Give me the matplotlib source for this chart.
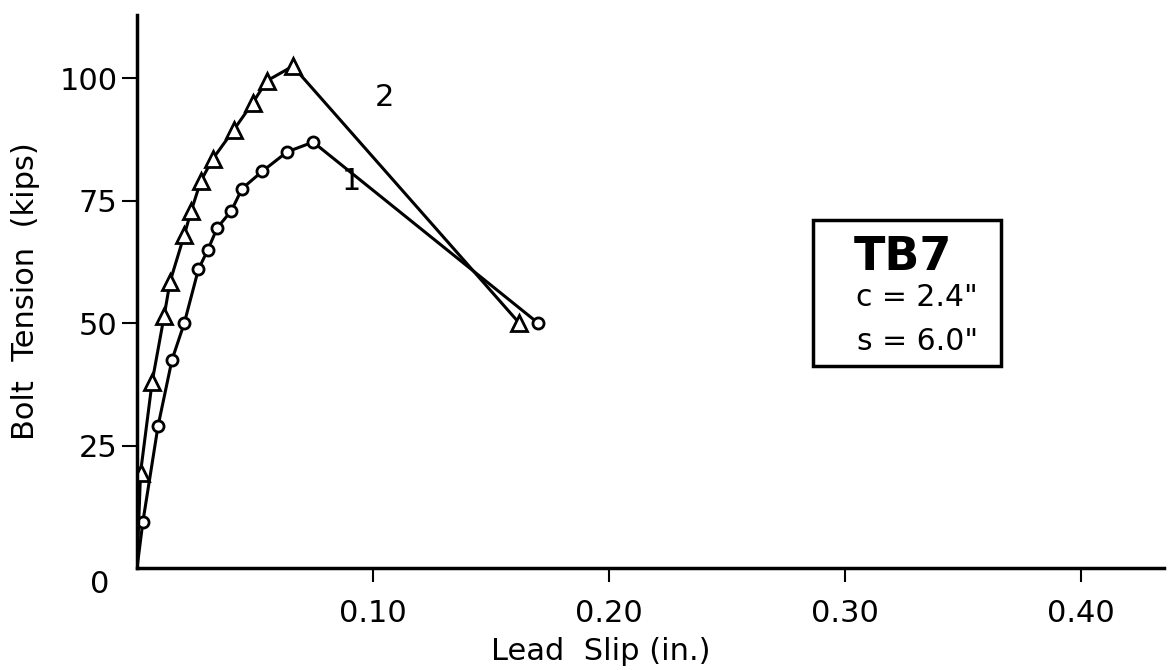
import matplotlib.pyplot as plt
from matplotlib.patches import Rectangle

# series 1 (circles) and series 2 (triangles), lead slip in inches, tension in kips
slip_1 = [0.0, 0.0025, 0.0089, 0.0148, 0.020, 0.026, 0.030, 0.034, 0.040, 0.0445, 0.053, 0.0636, 0.0746, 0.170]
tension_1 = [0, 9.5, 29, 42.5, 50, 61, 65, 69.5, 73, 77.5, 81, 85, 87, 50]
slip_2 = [0.0, 0.0015, 0.0064, 0.0115, 0.014, 0.020, 0.023, 0.027, 0.032, 0.041, 0.049, 0.055, 0.066, 0.162]
tension_2 = [0, 19.5, 38, 51.5, 58.5, 68, 73, 79, 83.5, 89.5, 95, 99.5, 102.5, 50]

xticks = [0.10, 0.20, 0.30, 0.40]
xtick_labels = ["0.10", "0.20", "0.30", "0.40"]
yticks = [25, 50, 75, 100]

plt.rcParams['font.family'] = ['DejaVu Sans']

fig = plt.figure(figsize=(11.75, 6.7), dpi=100)
ax = fig.add_axes([0.1166, 0.152, 0.874, 0.826])

ax.plot(slip_1, tension_1, color='black', lw=2.2, marker='o', ms=8,
        mfc='white', mec='black', mew=2, markevery=list(range(1, len(slip_1))))
ax.plot(slip_2, tension_2, color='black', lw=2.2, marker='^', ms=12,
        mfc='white', mec='black', mew=2, markevery=list(range(1, len(slip_2))))

ax.set_xlim(0, 0.435)
ax.set_ylim(0, 113)
ax.spines['top'].set_visible(False)
ax.spines['right'].set_visible(False)
ax.spines['left'].set_linewidth(2.5)
ax.spines['bottom'].set_linewidth(2.5)

ax.set_xticks(xticks)
ax.set_xticklabels(xtick_labels)
ax.set_yticks(yticks)
ax.tick_params(axis='x', direction='out', length=10, width=1.5, pad=12, labelsize=22)
ax.tick_params(axis='y', direction='out', length=11, width=1.5, pad=3, labelsize=22)
ax.annotate("0", xy=(0, 0), xycoords='data', xytext=(-27, -12), textcoords='offset points',
            fontsize=22, ha='center', va='center')

ax.set_xlabel("Lead  Slip (in.)", fontsize=22)
ax.xaxis.set_label_coords(0.452, -0.124)
ax.set_ylabel("Bolt  Tension  (kips)", fontsize=22, labelpad=14)

ax.text(0.105, 96, "2", fontsize=22, ha='center', va='center')
ax.text(0.091, 79, "1", fontsize=22, ha='center', va='center')

# label box
box = Rectangle((0.2865, 41.2), 0.0795, 29.8, fill=False, lw=2.5, ec='black')
ax.add_patch(box)
ax.text(0.3245, 63.5, "TB7", fontsize=33, fontweight='bold', ha='center', va='center')
ax.text(0.3305, 55.3, 'c = 2.4"', fontsize=21.5, ha='center', va='center')
ax.text(0.3305, 46.2, 's = 6.0"', fontsize=21.5, ha='center', va='center')

fig.savefig("out.png", dpi=100)
